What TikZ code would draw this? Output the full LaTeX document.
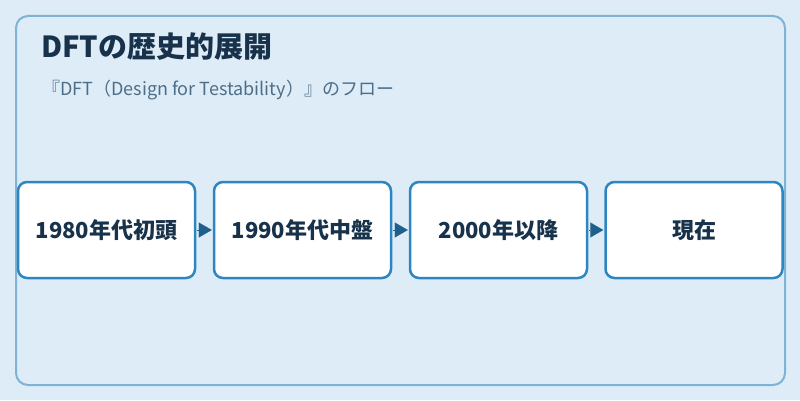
\documentclass[tikz,border=0pt]{standalone}
\usepackage{fontspec}
\setmainfont{Noto Sans CJK JP}
\usetikzlibrary{arrows.meta}
\definecolor{bg}{HTML}{DDECF7}
\definecolor{outer}{HTML}{7FB2D4}
\definecolor{boxb}{HTML}{2E86C1}
\definecolor{arr}{HTML}{1F5F8B}
\definecolor{ttl}{HTML}{17324A}
\definecolor{sub}{HTML}{4E6E88}
\tikzset{
  stepbox/.style={draw=boxb, line width=2.5pt, fill=white, rounded corners=9pt,
    minimum width=177pt, minimum height=96pt, inner sep=0pt,
    font=\bfseries\fontsize{22pt}{26pt}\selectfont, text=ttl},
  flowarrow/.style={draw=arr, line width=0.1pt, -{Triangle[length=13pt,width=15pt]}, shorten >=1pt, shorten <=1pt}
}
\begin{document}
\begin{tikzpicture}[x=1pt,y=1pt]
\fill[bg] (0,0) rectangle (800,400);
\useasboundingbox (0,0) rectangle (800,400);
\draw[outer, line width=2pt, rounded corners=12pt, fill=bg] (16,15) rectangle (785,384);
\node[anchor=base west, inner sep=0pt, text=ttl, font=\bfseries\fontsize{29pt}{33pt}\selectfont] (title) at (41,343) {DFTの歴史的展開};
\node[anchor=base west, inner sep=0pt, text=sub, font=\fontsize{18pt}{21pt}\selectfont] (subtitle) at (42,305) {『DFT（Design for Testability）』のフロー};
\node[stepbox] (b1) at (106.5,170) {1980年代初頭};
\node[stepbox] (b2) at (302.5,170) {1990年代中盤};
\node[stepbox] (b3) at (498.5,170) {2000年以降};
\node[stepbox] (b4) at (694,170) {現在};
\draw[flowarrow] (b1) -- (b2);
\draw[flowarrow] (b2) -- (b3);
\draw[flowarrow] (b3) -- (b4);
\end{tikzpicture}
\end{document}
